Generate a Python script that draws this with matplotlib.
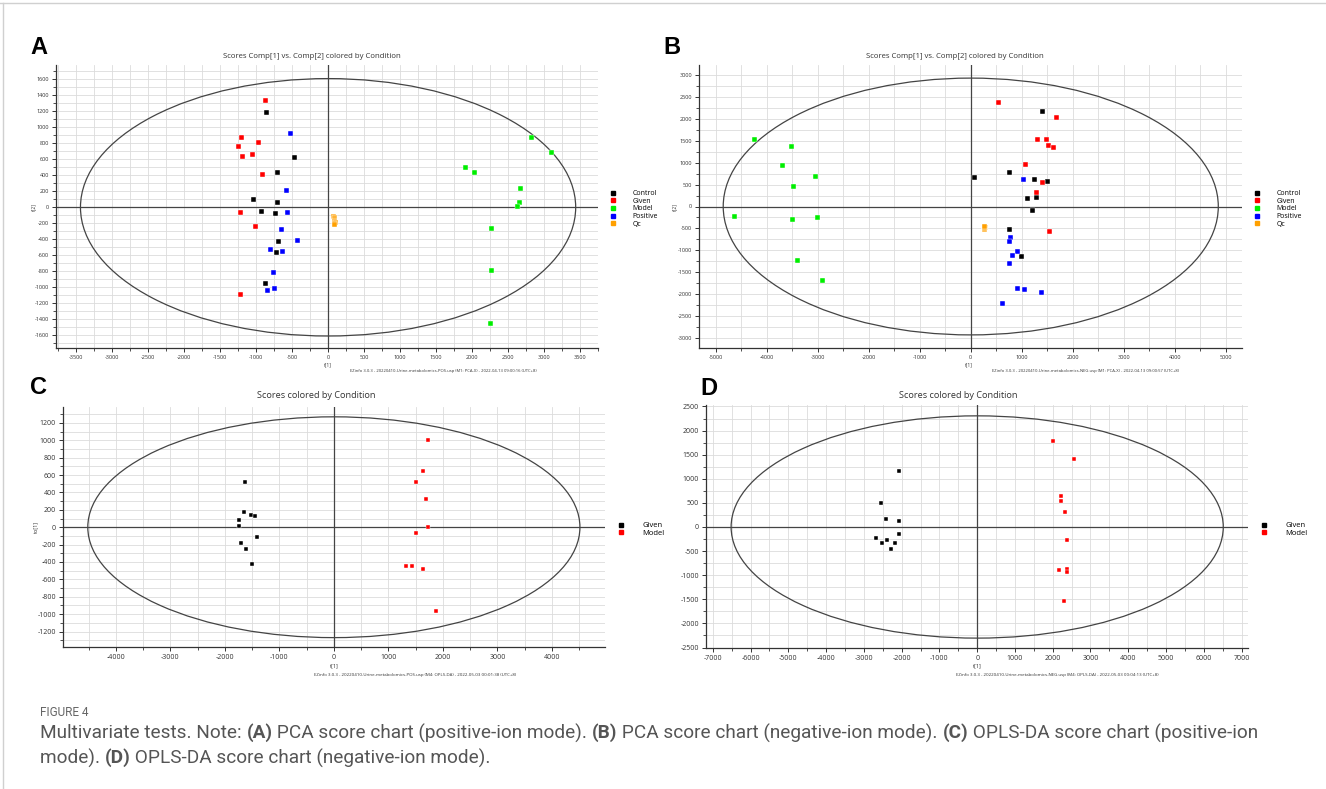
import numpy as np
import matplotlib
matplotlib.use("Agg")
import matplotlib.pyplot as plt
from matplotlib.patches import Ellipse
from matplotlib.lines import Line2D
from matplotlib.ticker import MultipleLocator

# ---- data ----
# A: PCA, positive-ion mode
a_control_x = [-856, -477, -704, -1037, -704, -931, -731, -690, -722, -870]
a_control_y = [1192, 625, 442, 104, 62, -50, -67, -421, -558, -942]
a_given_x = [-870, -1204, -972, -1255, -1194, -1051, -917, -1227, -1014, -1222]
a_given_y = [1342, 883, 812, 762, 646, 671, 417, -54, -229, -1083]
a_model_x = [2819, 3097, 1907, 2028, 2671, 2648, 2620, 2268, 2259, 2245]
a_model_y = [875, 687, 504, 445, 237, 62, 20, -262, -784, -1446]
a_positive_x = [-532, -583, -565, -657, -431, -801, -634, -759, -754, -843]
a_positive_y = [933, 217, -54, -271, -404, -525, -542, -804, -1004, -1037]
a_qc_x = [72, 80, 88, 76, 84, 92, 78, 86]
a_qc_y = [-110, -125, -140, -155, -170, -185, -200, -210]

# B: PCA, negative-ion mode
b_control_x = [72, 1392, 758, 1235, 1497, 1111, 1281, 1203, 758, 980]
b_control_y = [669, 2188, 790, 623, 593, 198, 213, -91, -509, -1125]
b_given_x = [542, 1680, 1301, 1471, 1516, 1621, 1072, 1392, 1281, 1542]
b_given_y = [2394, 2052, 1550, 1535, 1413, 1368, 965, 562, 334, -570]
b_model_x = [-4242, -3529, -3699, -3059, -3490, -4634, -3510, -3013, -3399, -2908]
b_model_y = [1550, 1383, 957, 699, 464, -220, -296, -251, -1216, -1679]
b_positive_x = [1020, 778, 758, 908, 810, 745, 908, 1045, 1386, 614]
b_positive_y = [638, -699, -798, -1026, -1117, -1292, -1877, -1892, -1960, -2211]
b_qc_x = [250, 270, 262, 255, 268, 258, 265, 252]
b_qc_y = [-450, -470, -490, -510, -460, -500, -480, -440]

# C: OPLS-DA, positive-ion mode
c_given_x = [-1627, -1651, -1523, -1450, -1737, -1737, -1413, -1706, -1609, -1511]
c_given_y = [516, 180, 145, 126, 80, 11, -118, -183, -252, -424]
c_model_x = [1719, 1633, 1505, 1688, 1725, 1505, 1321, 1431, 1633, 1866]
c_model_y = [1002, 642, 524, 321, 8, -65, -451, -443, -478, -959]

# D: OPLS-DA, negative-ion mode
d_given_x = [-2063, -2540, -2416, -2063, -2081, -2690, -2531, -2399, -2187, -2293]
d_given_y = [1169, 505, 159, 131, -152, -235, -339, -270, -332, -456]
d_model_x = [1994, 2550, 2222, 2222, 2338, 2381, 2153, 2381, 2381, 2286]
d_model_y = [1791, 1411, 636, 539, 311, -270, -892, -878, -941, -1528]

# Hotelling T2 ellipse half-axes
a_ellipse = (3440, 1610)
b_ellipse = (4855, 2940)
c_ellipse = (4515, 1270)
d_ellipse = (6515, 2305)

# PCA panels (A, B) and OPLS-DA panels (C, D) use different class colours
pca_colors = {"Control": "#000000", "Given": "#ff0000", "Model": "#00ee00",
              "Positive": "#0000ff", "Qc": "#ffa000"}
opls_colors = {"Given": "#000000", "Model": "#ff0000"}

W, H = 1326, 789
plt.rcParams['font.family'] = ['Open Sans', 'DejaVu Sans']
plt.rcParams['axes.unicode_minus'] = False
fig = plt.figure(figsize=(W / 100, H / 100), dpi=100)


def fx(px):
    return px / W


def fy(py):
    return 1 - py / H


def setup(rect, xlim, ylim, xmaj, xmin, ymaj, ymin, ell, tick_fs):
    ax = fig.add_axes(rect)
    ax.set_xlim(*xlim)
    ax.set_ylim(*ylim)
    ax.xaxis.set_major_locator(MultipleLocator(xmaj))
    ax.xaxis.set_minor_locator(MultipleLocator(xmin))
    ax.yaxis.set_major_locator(MultipleLocator(ymaj))
    ax.yaxis.set_minor_locator(MultipleLocator(ymin))
    ax.grid(True, which="both", color="#dcdcdc", lw=0.6)
    ax.set_axisbelow(True)
    for s in ["top", "right"]:
        ax.spines[s].set_visible(False)
    for s in ["left", "bottom"]:
        ax.spines[s].set_color("#333333")
        ax.spines[s].set_linewidth(0.9)
    ax.tick_params(which="both", direction="out", color="#333333",
                   labelsize=tick_fs, labelcolor="#333333", pad=2)
    ax.tick_params(which="major", length=3, width=0.7)
    ax.tick_params(which="minor", length=2, width=0.6)
    ax.axhline(0, color="#444444", lw=0.9, zorder=1)
    ax.axvline(0, color="#444444", lw=0.9, zorder=1)
    ax.add_patch(Ellipse((0, 0), 2 * ell[0], 2 * ell[1], fill=False,
                         edgecolor="#444444", lw=0.9, zorder=2))
    return ax


def pts(ax, x, y, color, ms):
    ax.plot(x, y, "s", color=color, ms=ms, mec="white", mew=0.3,
            zorder=3, clip_on=False)


def legend(ax, cmap, x_px, y_px, ms, fs, spacing):
    names = list(cmap)
    handles = [Line2D([], [], ls="", marker="s", color=cmap[n], ms=ms) for n in names]
    ax.legend(handles, names, loc="upper left",
              bbox_to_anchor=(fx(x_px), fy(y_px)), bbox_transform=fig.transFigure,
              frameon=False, fontsize=fs, handlelength=0.8, handletextpad=2.4,
              labelspacing=spacing, borderpad=0, borderaxespad=0)


# ---- A ----
axA = setup([fx(56), fy(348), fx(598 - 56), (348 - 65) / H],
            (-3780, 3750), (-1760, 1780), 500, 250, 200, 100, a_ellipse, 4)
pts(axA, a_control_x, a_control_y, pca_colors["Control"], 3.6)
pts(axA, a_given_x, a_given_y, pca_colors["Given"], 3.6)
pts(axA, a_model_x, a_model_y, pca_colors["Model"], 3.6)
pts(axA, a_positive_x, a_positive_y, pca_colors["Positive"], 3.6)
pts(axA, a_qc_x, a_qc_y, pca_colors["Qc"], 3.6)
legend(axA, pca_colors, 610, 190, 3.4, 5, 0.1)

# ---- B ----
axB = setup([fx(699), fy(348), fx(1242 - 699), (348 - 65) / H],
            (-5330, 5320), (-3240, 3240), 1000, 500, 500, 250, b_ellipse, 4)
pts(axB, b_control_x, b_control_y, pca_colors["Control"], 3.6)
pts(axB, b_given_x, b_given_y, pca_colors["Given"], 3.6)
pts(axB, b_model_x, b_model_y, pca_colors["Model"], 3.6)
pts(axB, b_positive_x, b_positive_y, pca_colors["Positive"], 3.6)
pts(axB, b_qc_x, b_qc_y, pca_colors["Qc"], 3.6)
legend(axB, pca_colors, 1254, 190, 3.4, 5, 0.1)

# ---- C ----
axC = setup([fx(63), fy(647), fx(605 - 63), (647 - 407) / H],
            (-4970, 4975), (-1378, 1383), 1000, 500, 200, 100, c_ellipse, 5)
pts(axC, c_given_x, c_given_y, opls_colors["Given"], 2.6)
pts(axC, c_model_x, c_model_y, opls_colors["Model"], 2.6)
legend(axC, opls_colors, 618, 522, 2.4, 5.5, 0.05)

# ---- D ----
axD = setup([fx(706), fy(648), fx(1248 - 706), (648 - 405) / H],
            (-7180, 7170), (-2510, 2530), 1000, 500, 500, 250, d_ellipse, 5)
pts(axD, d_given_x, d_given_y, opls_colors["Given"], 2.6)
pts(axD, d_model_x, d_model_y, opls_colors["Model"], 2.6)
legend(axD, opls_colors, 1261, 522, 2.4, 5.5, 0.05)

# ---- titles, axis names, footers ----
tc = "#333333"
fig.text(fx(312), fy(57), "Scores Comp[1] vs. Comp[2] colored by Condition",
         ha="center", va="center", fontsize=5.6, color=tc)
fig.text(fx(955), fy(57), "Scores Comp[1] vs. Comp[2] colored by Condition",
         ha="center", va="center", fontsize=5.6, color=tc)
fig.text(fx(316), fy(396), "Scores colored by Condition",
         ha="center", va="center", fontsize=6.6, color=tc)
fig.text(fx(958), fy(396), "Scores colored by Condition",
         ha="center", va="center", fontsize=6.6, color=tc)

fig.text(fx(328), fy(365), "t[1]", ha="center", va="center", fontsize=3.5, color=tc)
fig.text(fx(969), fy(365), "t[1]", ha="center", va="center", fontsize=3.5, color=tc)
fig.text(fx(334), fy(666), "t[1]", ha="center", va="center", fontsize=4, color=tc)
fig.text(fx(977), fy(666), "t[1]", ha="center", va="center", fontsize=4, color=tc)
fig.text(fx(34), fy(207), "t[2]", ha="center", va="center", fontsize=3.5,
         color=tc, rotation=90)
fig.text(fx(675), fy(207), "t[2]", ha="center", va="center", fontsize=3.5,
         color=tc, rotation=90)
fig.text(fx(36), fy(527), "to[1]", ha="center", va="center", fontsize=4,
         color=tc, rotation=90)

fig.text(fx(443), fy(371),
         "EZinfo 3.0.3 - 20220410-Urine-metabolomics-POS.usp (M1: PCA-X) - 2022-04-13 09:00:16 (UTC+8)",
         ha="center", va="center", fontsize=3, color=tc)
fig.text(fx(1085), fy(371),
         "EZinfo 3.0.3 - 20220410-Urine-metabolomics-NEG.usp (M1: PCA-X) - 2022-04-13 09:00:57 (UTC+8)",
         ha="center", va="center", fontsize=3, color=tc)
fig.text(fx(415), fy(675),
         "EZinfo 3.0.3 - 20220410-Urine-metabolomics-POS.usp (M4: OPLS-DA) - 2022-05-03 00:01:38 (UTC+8)",
         ha="center", va="center", fontsize=3.2, color=tc)
fig.text(fx(1057), fy(675),
         "EZinfo 3.0.3 - 20220410-Urine-metabolomics-NEG.usp (M4: OPLS-DA) - 2022-05-03 00:04:13 (UTC+8)",
         ha="center", va="center", fontsize=3.2, color=tc)

# panel letters
for letter, x, y in [("A", 30, 47), ("B", 663, 47), ("C", 30, 388), ("D", 700, 389)]:
    fig.text(fx(x), fy(y), letter, ha="left", va="center", fontsize=17,
             fontweight="bold", family=["Liberation Sans", "DejaVu Sans"])

# page frame lines
fig.add_artist(Line2D([0, 1], [fy(2.5), fy(2.5)], color="#d0d0d0", lw=1))
fig.add_artist(Line2D([fx(3), fx(3)], [0, fy(2.5)], color="#d0d0d0", lw=1))

# ---- caption ----
cap_col = "#555555"
cap_fam = ["Roboto", "DejaVu Sans"]
fig.text(fx(40), fy(712), "FIGURE 4", ha="left", va="center", fontsize=8.5,
         color="#666666", family=cap_fam)

renderer = fig.canvas.get_renderer()

line1 = [("Multivariate tests. Note: ", "normal"), ("(A)", "bold"),
         (" PCA score chart (positive-ion mode). ", "normal"), ("(B)", "bold"),
         (" PCA score chart (negative-ion mode). ", "normal"), ("(C)", "bold"),
         (" OPLS-DA score chart (positive-ion", "normal")]
line2 = [("mode). ", "normal"), ("(D)", "bold"),
         (" OPLS-DA score chart (negative-ion mode).", "normal")]


def rich_line(x_px, y_px, parts, fs):
    x = fx(x_px)
    made = []
    for s, w in parts:
        t = fig.text(x, fy(y_px), s, ha="left", va="center", fontsize=fs,
                     color=cap_col, fontweight=w, family=cap_fam)
        bb = t.get_window_extent(renderer)
        x = bb.x1 / fig.bbox.width
        made.append(t)
    return made, x * W - x_px


# fit the first caption line to the reference width (about 1213 px)
trial, width = rich_line(40, 733, line1, 12)
for t in trial:
    t.remove()
cap_fs = 12 * 1213 / width
rich_line(40, 733, line1, cap_fs)
rich_line(40, 758, line2, cap_fs)

fig.savefig("out.png", dpi=100)
